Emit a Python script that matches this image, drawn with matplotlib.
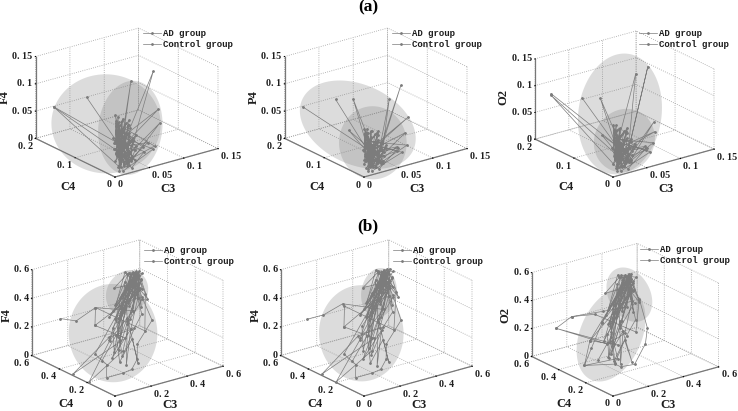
import numpy as np
import matplotlib
matplotlib.use('Agg')
import matplotlib.pyplot as plt
from mpl_toolkits.mplot3d import proj3d
from mpl_toolkits.mplot3d.art3d import Poly3DCollection

# ---------- panel (a): values ----------
a1_ad_c3 = [.0146,.030,.018,.035,.022,.040,.028,.081,.036,.025,.044,.019,.031,.052,.027,.038,.016,.046,.033,.024,.098,.030,.021,.041,.026,.036,.015,.048,.029,.034,.03,.02,.045,.025,.05,.028,.04,.02,.055,.03,.035,.025,.06,.022,.045,.015,.04,.03,.05,.02]
a1_ad_c4 = [.18,.03,.02,.05,.025,.04,.035,.10,.04,.02,.03,.03,.045,.02,.035,.025,.02,.04,.015,.03,.06,.05,.03,.02,.01,.045,.025,.03,.02,.015,.05,.02,.06,.03,.07,.035,.05,.03,.06,.02,.06,.025,.07,.04,.05,.015,.06,.04,.05,.02]
a1_ad_z  = [.06,.035,.02,.045,.012,.05,.03,.112,.055,.008,.04,.025,.06,.03,.018,.045,.005,.035,.022,.05,.069,.015,.04,.028,.01,.03,.015,.05,.003,.02,.07,.005,.05,.015,.06,.002,.075,.03,.04,.01,.08,.02,.05,.04,.065,.0,.03,.055,.07,.015]
a1_ct_c3 = [.028,.025,.035,.02,.03,.102,.045,.03,.018,.04,.028,.1,.035,.022,.0146,.015,.033,.042,.024,.03,.075,.03,.019,.038,.026,.06,.03,.021,.035,.028,.04,.022,.05,.03,.065,.025,.042,.018,.05,.035,.03,.02,.055,.028,.04,.017,.07,.03,.045,.024]
a1_ct_c4 = [.12,.035,.03,.04,.02,.08,.04,.02,.03,.035,.015,.06,.02,.04,.18,.015,.05,.02,.03,.01,.03,.04,.025,.015,.02,.03,.01,.03,.03,.02,.06,.025,.05,.04,.03,.02,.07,.03,.08,.02,.05,.03,.05,.045,.04,.01,.025,.05,.07,.03]
a1_ct_z  = [.094,.04,.02,.05,.01,.13,.06,.015,.035,.048,.025,.043,.01,.03,.06,.008,.055,.035,.005,.02,.02,.07,.03,.012,.045,.015,.003,.022,.04,.009,.065,.01,.06,.03,.03,.004,.055,.045,.05,.012,.075,.02,.035,.06,.05,.001,.018,.05,.07,.008]

a2_ad_c3 = [.0146,.03,.02,.036,.024,.042,.028,.042,.034,.022,.05,.018,.03,.06,.026,.038,.015,.047,.03,.024,.099,.03,.02,.04,.024,.034,.014,.05,.028,.036,.03,.02,.045,.025,.05,.028,.04,.02,.055,.03,.035,.025,.06,.022,.045,.015,.04,.03,.05,.02]
a2_ad_c4 = [.18,.04,.03,.05,.03,.04,.035,.10,.04,.02,.03,.03,.045,.02,.03,.025,.02,.04,.015,.03,.06,.05,.03,.02,.012,.04,.025,.03,.02,.015,.05,.02,.06,.03,.07,.035,.05,.03,.06,.02,.06,.025,.07,.04,.05,.015,.06,.04,.05,.02]
a2_ad_z  = [.06,.025,.012,.03,.008,.035,.02,.093,.03,.006,.025,.015,.035,.02,.01,.03,.004,.022,.014,.03,.054,.01,.025,.018,.006,.02,.01,.03,.002,.012,.05,.004,.036,.01,.042,.002,.052,.02,.028,.008,.055,.014,.035,.028,.045,.0,.02,.038,.05,.01]
a2_ct_c3 = [.028,.026,.038,.024,.03,.10,.05,.03,.02,.04,.028,.083,.036,.024,.095,.015,.034,.04,.024,.03,.08,.03,.018,.036,.026,.07,.028,.02,.034,.024,.04,.022,.05,.03,.065,.025,.042,.018,.05,.035,.03,.02,.055,.028,.04,.017,.07,.03,.045,.024]
a2_ct_c4 = [.12,.04,.03,.08,.02,.08,.04,.02,.03,.035,.015,.08,.02,.04,.06,.015,.05,.02,.03,.01,.03,.04,.025,.015,.02,.035,.01,.03,.03,.02,.06,.025,.05,.04,.03,.02,.07,.03,.08,.02,.05,.03,.05,.045,.04,.01,.025,.05,.07,.03]
a2_ct_z  = [.09,.03,.015,.049,.008,.105,.035,.01,.022,.03,.015,.085,.006,.02,.027,.005,.035,.024,.004,.012,.02,.04,.018,.008,.028,.016,.002,.014,.026,.006,.045,.007,.042,.02,.022,.003,.04,.03,.035,.008,.052,.014,.025,.042,.035,.001,.012,.035,.048,.005]

a3_ad_c3 = [.012,.032,.02,.038,.024,.042,.028,.039,.034,.024,.05,.02,.03,.06,.026,.038,.016,.047,.03,.024,.097,.03,.02,.04,.024,.034,.014,.05,.028,.036,.03,.02,.045,.025,.05,.028,.04,.02,.055,.03,.035,.025,.06,.022,.045,.015,.04,.03,.05,.02]
a3_ad_c4 = [.18,.04,.03,.05,.03,.04,.035,.10,.04,.02,.03,.03,.045,.02,.03,.025,.02,.04,.015,.03,.06,.05,.03,.02,.012,.04,.025,.03,.02,.015,.05,.02,.06,.03,.07,.035,.05,.03,.06,.02,.06,.025,.07,.04,.05,.015,.06,.04,.05,.02]
a3_ad_z  = [.088,.03,.014,.035,.01,.04,.022,.098,.035,.006,.03,.018,.04,.022,.012,.034,.004,.026,.016,.035,.03,.012,.03,.02,.008,.024,.01,.034,.003,.014,.056,.004,.04,.012,.048,.002,.06,.024,.032,.008,.064,.016,.04,.032,.052,.0,.024,.044,.056,.012]
a3_ct_c3 = [.024,.028,.04,.024,.03,.098,.05,.03,.02,.08,.03,.095,.036,.024,.012,.015,.034,.04,.024,.03,.08,.03,.018,.036,.026,.07,.028,.02,.034,.024,.04,.022,.05,.03,.065,.025,.042,.018,.05,.035,.03,.02,.055,.028,.04,.017,.07,.03,.045,.024]
a3_ct_c4 = [.12,.04,.03,.07,.02,.08,.04,.02,.03,.08,.015,.06,.02,.04,.18,.015,.05,.02,.03,.01,.035,.04,.025,.015,.02,.035,.01,.03,.03,.02,.06,.025,.05,.04,.03,.02,.07,.03,.08,.02,.05,.03,.05,.045,.04,.01,.025,.05,.07,.03]
a3_ct_z  = [.096,.035,.018,.045,.009,.144,.04,.012,.025,.137,.018,.048,.008,.024,.085,.006,.04,.028,.004,.014,.024,.045,.02,.01,.032,.018,.002,.016,.03,.007,.052,.008,.048,.024,.024,.003,.044,.036,.04,.01,.06,.016,.028,.048,.04,.001,.014,.04,.056,.006]

# ---------- panel (b) ----------
b1_ad_c3 = [.12,.17,.20,.33,.5,.45,.35,.12,.07,.03,.12,.17,.2,.24,.36,.42,.5,.47,.33,.125,.01,.16,.3,.45,.52,.49,.38,.48,.5,.44,.35,.5,.3,.49,.4,.52,.25,.47,.2,.5,.45,.48,.33,.51,.28,.46,.38,.5,.22,.44,.3,.14,.28,.1,.3,.22,.25,.18,.2,.08]
b1_ad_c4 = [.55,.5,.4,.3,.5,.45,.4,.3,.15,.1,.1,.1,.1,.15,.2,.35,.52,.46,.3,.2,.2,.15,.28,.42,.5,.55,.5,.45,.5,.4,.35,.5,.4,.48,.45,.52,.3,.5,.3,.46,.35,.55,.42,.5,.36,.42,.4,.53,.25,.5,.3,.1,.25,.15,.3,.12,.2,.2,.25,.2]
b1_ad_z  = [.24,.23,.36,.34,.44,.42,.33,.11,.125,.07,.07,.08,.14,.21,.31,.38,.44,.4,.34,.25,.0,.19,.3,.39,.43,.42,.385,.41,.44,.4,.34,.44,.3,.43,.38,.45,.25,.44,.18,.42,.36,.44,.33,.45,.27,.4,.33,.43,.2,.41,.28,.12,.25,.16,.3,.1,.22,.08,.24,.12]
b1_ct_c3 = [.12,.2,.32,.4,.5,.46,.3,.12,.25,.005,.2,.28,.42,.5,.4,.35,.15,.22,.3,.44,.51,.47,.38,.3,.18,.26,.36,.46,.5,.52,.42,.5,.27,.48,.34,.52,.23,.49,.31,.5,.4,.46,.26,.51,.36,.47,.19,.5,.3,.43]
b1_ct_c4 = [.3,.4,.2,.3,.48,.4,.35,.3,.25,.31,.3,.25,.38,.5,.35,.4,.2,.3,.33,.42,.52,.48,.3,.25,.18,.33,.42,.45,.55,.48,.42,.52,.33,.47,.38,.5,.28,.54,.4,.48,.33,.44,.38,.5,.43,.5,.22,.46,.3,.36]
b1_ct_z  = [.31,.36,.25,.435,.44,.4,.36,.31,.2,.005,.2,.25,.36,.44,.38,.34,.16,.26,.34,.4,.44,.42,.3,.25,.13,.3,.38,.42,.43,.45,.37,.45,.27,.42,.32,.46,.2,.43,.34,.44,.33,.41,.28,.44,.36,.42,.15,.43,.26,.36]

b2_ad_c3 = [.11,.16,.19,.33,.5,.46,.36,.12,.07,.03,.12,.17,.2,.24,.36,.43,.5,.48,.34,.13,.0,.16,.31,.46,.52,.5,.38,.49,.5,.45,.36,.5,.31,.49,.41,.53,.26,.48,.21,.51,.46,.49,.34,.52,.29,.47,.39,.51,.23,.45,.31,.15,.29,.11,.31,.23,.26,.19,.21,.09]
b2_ad_c4 = [.55,.5,.4,.3,.52,.45,.4,.3,.15,.1,.1,.1,.1,.15,.2,.35,.52,.46,.3,.2,.2,.15,.28,.42,.5,.55,.5,.45,.52,.4,.35,.5,.4,.48,.45,.52,.3,.5,.3,.46,.35,.55,.42,.5,.36,.42,.4,.53,.25,.5,.3,.1,.25,.15,.3,.12,.2,.2,.25,.2]
b2_ad_z  = [.24,.275,.39,.35,.45,.43,.34,.11,.125,.07,.07,.08,.14,.21,.31,.39,.45,.41,.35,.25,.005,.19,.31,.4,.44,.43,.39,.42,.45,.41,.35,.45,.31,.44,.39,.46,.26,.45,.19,.43,.37,.45,.34,.46,.28,.41,.34,.44,.21,.42,.27,.11,.24,.15,.29,.1,.21,.07,.23,.12]
b2_ct_c3 = [.12,.2,.32,.41,.5,.47,.31,.12,.25,.005,.2,.28,.43,.5,.41,.36,.15,.22,.31,.45,.51,.48,.39,.3,.18,.27,.37,.47,.5,.53,.43,.51,.28,.49,.35,.53,.24,.5,.32,.51,.41,.47,.27,.52,.37,.48,.2,.51,.31,.44]
b2_ct_c4 = [.3,.4,.2,.3,.5,.4,.35,.3,.25,.31,.3,.25,.38,.5,.35,.4,.2,.3,.33,.42,.52,.48,.3,.25,.18,.33,.42,.45,.55,.48,.42,.52,.33,.47,.38,.5,.28,.54,.4,.48,.33,.44,.38,.5,.43,.5,.22,.46,.3,.36]
b2_ct_z  = [.3,.37,.255,.44,.45,.41,.37,.3,.2,.005,.21,.26,.37,.45,.39,.35,.17,.27,.35,.41,.45,.43,.31,.26,.14,.31,.39,.43,.44,.46,.38,.46,.28,.43,.33,.47,.21,.44,.35,.45,.34,.42,.29,.45,.37,.43,.16,.44,.27,.37]

b3_ad_c3 = [.1,.15,.25,.35,.47,.44,.36,.1,.03,.09,.12,.2,.3,.35,.42,.47,.4,.17,.07,.03,.12,.16,.28,.44,.48,.46,.34,.43,.47,.42,.32,.47,.27,.46,.37,.49,.22,.44,.18,.47,.42,.45,.3,.48,.25,.43,.35,.47,.19,.41,.27,.12,.25,.09,.27,.2,.22,.16,.18,.07]
b3_ad_c4 = [.55,.5,.4,.35,.5,.45,.45,.3,.25,.1,.1,.1,.15,.2,.35,.52,.46,.3,.25,.25,.12,.2,.3,.45,.5,.55,.5,.45,.5,.4,.35,.5,.4,.48,.45,.52,.3,.5,.3,.46,.35,.55,.42,.5,.36,.42,.4,.53,.25,.5,.3,.1,.25,.15,.3,.12,.2,.2,.25,.2]
b3_ad_z  = [.19,.28,.33,.35,.45,.44,.36,.22,.09,.15,.12,.11,.2,.27,.38,.45,.42,.325,.2,.09,.17,.22,.3,.41,.45,.43,.38,.42,.46,.42,.33,.45,.3,.44,.38,.46,.24,.45,.19,.43,.36,.45,.33,.46,.26,.41,.33,.44,.2,.42,.28,.14,.26,.18,.3,.12,.23,.1,.24,.14]
b3_ct_c3 = [.15,.22,.3,.38,.47,.43,.3,.1,.22,.1,.2,.26,.4,.48,.38,.33,.13,.2,.28,.42,.49,.45,.36,.27,.15,.24,.33,.44,.47,.5,.39,.47,.24,.45,.31,.49,.2,.46,.28,.47,.37,.43,.23,.48,.33,.44,.16,.47,.27,.4]
b3_ct_c4 = [.5,.42,.22,.3,.48,.4,.36,.3,.25,.55,.3,.25,.38,.5,.35,.42,.2,.3,.33,.42,.52,.48,.3,.25,.18,.33,.42,.45,.55,.48,.42,.52,.33,.47,.38,.5,.28,.54,.4,.48,.33,.44,.38,.5,.43,.5,.22,.46,.3,.36]
b3_ct_z  = [.28,.31,.25,.41,.45,.42,.35,.22,.17,.19,.16,.24,.36,.45,.38,.34,.13,.23,.32,.4,.45,.42,.28,.22,.1,.28,.37,.41,.44,.45,.37,.46,.26,.42,.31,.47,.19,.44,.33,.45,.32,.41,.27,.45,.35,.43,.14,.44,.25,.36]

# Ellipsoids: centre and radii per group, (C3, C4, channel); lean = channel shift per C3
a1_ell = [(.039,.09,.052,.063,.084,.083,0), (.057,.06,.049,.042,.036,.084,0)]
a2_ell = [(.043,.09,.049,.048,.12,.067,0), (.036,.04,.036,.039,.052,.063,0)]
a3_ell = [(.045,.06,.081,.057,.044,.11,0), (.04,.04,.04,.039,.04,.056,0)]
b1_ell = [(.174,.24,.266,.195,.195,.324,0), (.414,.45,.366,.108,.06,.15,0)]
b2_ell = [(.17,.24,.266,.186,.186,.318,0), (.43,.45,.36,.09,.054,.168,0)]
b3_ell = [(.174,.24,.266,.18,.10,.30,.45), (.44,.45,.36,.06,.15,.18,0)]

a_c3_ticks = [0, .05, .1, .15]; a_c3_labels = ['0', '0. 05', '0. 1', '0. 15']
a_c4_ticks = [0, .1, .2];       a_c4_labels = ['0', '0. 1', '0. 2']
a_z_ticks  = [0, .05, .1, .15]; a_z_labels  = ['0', '0. 05', '0. 1', '0. 15']
b_ticks = [0, .2, .4, .6];      b_labels = ['0', '0. 2', '0. 4', '0. 6']
legend_names = ['AD group', 'Control group']

MONO = 'Liberation Mono'
SERIF = 'Liberation Serif'
GRAY = '#7c7c7c'
INK = '#1e1e1e'
W, H = 738, 411

fig = plt.figure(figsize=(W/100, H/100), dpi=100)

def ellipsoid(ax, e, M):
    """Filled outline of the ellipsoid as seen along the view direction."""
    cx, cy, cz, rx, ry, rz, lean = e
    A = np.array([[rx, 0, 0], [0, ry, 0], [lean*rx, 0, rz]])
    view = np.cross(M[0, :3], M[1, :3])
    n = np.linalg.solve(A, view)
    n /= np.linalg.norm(n)
    e1 = np.cross(n, [0, 0, 1.0]); e1 /= np.linalg.norm(e1)
    e2 = np.cross(n, e1)
    t = np.linspace(0, 2*np.pi, 121)[:-1]
    s = np.outer(np.cos(t), e1) + np.outer(np.sin(t), e2)
    pts = s @ A.T + np.array([cx, cy, cz])
    ax.add_collection3d(Poly3DCollection([pts], facecolors=[(.5, .5, .5, .27)],
                                         edgecolors='none', zorder=1), autolim=False)

def panel(origin, xend, xlim, ylim, zlim, xt, xl, yt, yl, zt, zl, zname, ad, ct, ell, leg_xy, offs):
    ax = fig.add_axes([0, 0, 300/W, 300/H], projection='3d', computed_zorder=False)
    ax.patch.set_alpha(0)
    ax.set_proj_type('ortho')
    ax.view_init(elev=21.5, azim=-127)
    ax.set_xlim(*xlim); ax.set_ylim(*ylim); ax.set_zlim(*zlim)
    h = []
    for s in (ad, ct):
        h.append(ax.plot(s[0], s[1], s[2], color=GRAY, lw=0.5, marker='o', ms=1.0, zorder=3)[0])
    ax.set_xticks(xt); ax.set_xticklabels([''] * len(xt))
    ax.set_yticks(yt); ax.set_yticklabels([''] * len(yt))
    ax.set_zticks(zt); ax.set_zticklabels([''] * len(zt))
    for a in (ax.xaxis, ax.yaxis, ax.zaxis):
        a.set_pane_color((1, 1, 1, 0))
        a.pane.set_edgecolor((1, 1, 1, 0))
        a.line.set_color('#777777')
        a.line.set_linewidth(0.9)
        a._axinfo['grid'].update(color='#a0a0a0', linewidth=0.6, linestyle=':')
        a._axinfo['tick'].update(inward_factor=0.03, outward_factor=0.0)
        a._axinfo['tick']['color'] = '#777777'
    # fit the box to the wanted pixel positions of its corners
    aspect = (129, 132, 88)
    zoom = 1.0
    ax.set_box_aspect(aspect, zoom=zoom)
    def px(p, M):
        a, b, _z = proj3d.proj_transform(p[0], p[1], p[2], M)
        return ax.transData.transform((a, b))
    for _ in range(3):
        fig.canvas.draw()
        M = ax.get_proj()
        o = px((xlim[0], ylim[0], zlim[0]), M); e = px((xlim[1], ylim[0], zlim[0]), M)
        zoom *= (xend[0]-origin[0])/(e[0]-o[0])
        ax.set_box_aspect(aspect, zoom=zoom)
        fig.canvas.draw()
        M = ax.get_proj()
        o = px((xlim[0], ylim[0], zlim[0]), M)
        bb = ax.get_position()
        ax.set_position([bb.x0+(origin[0]-o[0])/W, bb.y0+((H-origin[1])-o[1])/H, bb.width, bb.height])
    fig.canvas.draw()
    M = ax.get_proj()
    for e in ell:
        ellipsoid(ax, e, M)
    # tick labels at the projected tick positions
    kw = dict(family=SERIF, fontsize=7.2, weight='bold', color=INK, va='center')
    def put(p, dx, dy, label, ha):
        q = px(p, M)
        fig.text((q[0]+dx)/W, (q[1]-dy)/H, label, ha=ha, **kw)
    for t, l in zip(xt, xl):
        put((t, ylim[0], zlim[0]), 3, 8, l, 'left')
    for t, l in zip(yt, yl):
        put((xlim[0], t, zlim[0]), -3, 8, l, 'right')
    for t, l in zip(zt, zl):
        put((xlim[0], ylim[1], t), -3, 0, l, 'right')
    lab = dict(family=SERIF, fontsize=9, weight='bold', color=INK, ha='center', va='center')
    fig.text((origin[0]+offs[0][0])/W, 1-(origin[1]+offs[0][1])/H, 'C4', **lab)
    fig.text((origin[0]+offs[1][0])/W, 1-(origin[1]+offs[1][1])/H, 'C3', **lab)
    fig.text((origin[0]+offs[2][0])/W, 1-(origin[1]+offs[2][1])/H, zname, rotation=90, **lab)
    fig.legend(h, legend_names, loc='upper left', bbox_to_anchor=(leg_xy[0]/W, 1-leg_xy[1]/H),
               frameon=False, prop={'family': MONO, 'size': 6.5, 'weight': 'bold'},
               labelcolor=INK, handlelength=2.0, handletextpad=0.2, labelspacing=0.2,
               borderpad=0, borderaxespad=0)
    return ax

a_off = ((-47, 10), (53, 12), (-110, -80))
b_off = ((-49, 8), (55, 8.5), (-108, -81))
ty = 177
panel((115, ty), (218, 148), (0,.15), (0,.2), (0,.15), a_c3_ticks, a_c3_labels, a_c4_ticks, a_c4_labels, a_z_ticks, a_z_labels,
      'F4', (a1_ad_c3,a1_ad_c4,a1_ad_z), (a1_ct_c3,a1_ct_c4,a1_ct_z), a1_ell, (143, 29), a_off)
panel((364, ty), (467, 148), (0,.15), (0,.2), (0,.15), a_c3_ticks, a_c3_labels, a_c4_ticks, a_c4_labels, a_z_ticks, a_z_labels,
      'P4', (a2_ad_c3,a2_ad_c4,a2_ad_z), (a2_ct_c3,a2_ct_c4,a2_ct_z), a2_ell, (392, 29), a_off)
panel((613, ty), (714, 148), (0,.15), (0,.2), (0,.15), a_c3_ticks, a_c3_labels, a_c4_ticks, a_c4_labels, a_z_ticks, a_z_labels,
      'O2', (a3_ad_c3,a3_ad_c4,a3_ad_z), (a3_ct_c3,a3_ct_c4,a3_ct_z), a3_ell, (639, 29), a_off)
by = 396
panel((115, by), (223, 366), (0,.6), (0,.6), (0,.6), b_ticks, b_labels, b_ticks, b_labels, b_ticks, b_labels,
      'F4', (b1_ad_c3,b1_ad_c4,b1_ad_z), (b1_ct_c3,b1_ct_c4,b1_ct_z), b1_ell, (144, 246), b_off)
panel((364, by), (472, 366), (0,.6), (0,.6), (0,.6), b_ticks, b_labels, b_ticks, b_labels, b_ticks, b_labels,
      'P4', (b2_ad_c3,b2_ad_c4,b2_ad_z), (b2_ct_c3,b2_ct_c4,b2_ct_z), b2_ell, (393, 246), b_off)
panel((613, by), (718.5, 366), (0,.6), (0,.6), (0,.6), b_ticks, b_labels, b_ticks, b_labels, b_ticks, b_labels,
      'O2', (b3_ad_c3,b3_ad_c4,b3_ad_z), (b3_ct_c3,b3_ct_c4,b3_ct_z), b3_ell, (640, 245), b_off)

fig.text(368/W, 1-7/H, '(a)', family=SERIF, weight='bold', fontsize=12.5, ha='center', va='center')
fig.text(368/W, 1-226/H, '(b)', family=SERIF, weight='bold', fontsize=12.5, ha='center', va='center')
fig.savefig('out.png', dpi=100)
